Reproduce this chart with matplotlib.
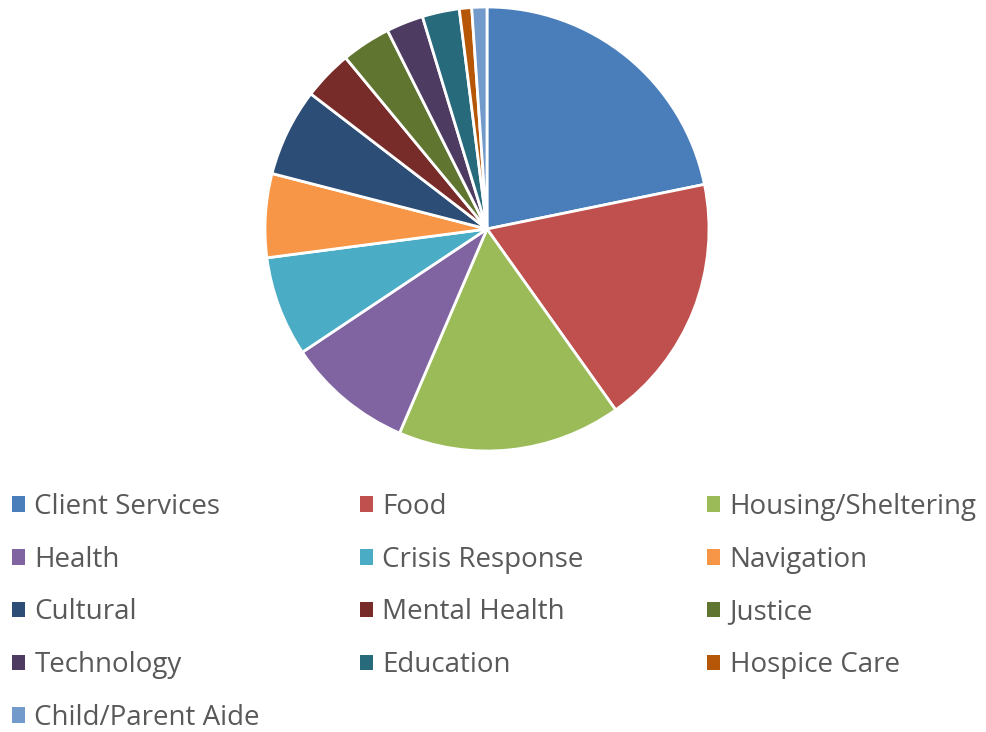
import matplotlib
matplotlib.use("Agg")
import matplotlib.pyplot as plt

categories = ["Client Services", "Food", "Housing/Sheltering", "Health", "Crisis Response",
              "Navigation", "Cultural", "Mental Health", "Justice", "Technology",
              "Education", "Hospice Care", "Child/Parent Aide"]
values = [21.8, 18.4, 16.3, 9.2, 7.3, 6.1, 6.4, 3.6, 3.6, 2.7, 2.7, 0.9, 1.1]
colors = ["#4A7EBB", "#C0504D", "#9BBB59", "#8064A2", "#4BACC6", "#F79646", "#2C4D75",
          "#772C2A", "#5F7530", "#4D3B62", "#276A7C", "#B65708", "#729ACA"]

plt.rcParams['font.family'] = ['Open Sans', 'DejaVu Sans']

W, H = 987, 732
fig = plt.figure(figsize=(W / 100, H / 100), dpi=100)
cx, cy, r = 487, 229, 222
ax = fig.add_axes([(cx - r) / W, (H - cy - r) / H, 2 * r / W, 2 * r / H])
wedges, _ = ax.pie(values, colors=colors, startangle=90, counterclock=False,
                   wedgeprops=dict(edgecolor="white", linewidth=2), radius=1)
ax.set_xlim(-1.0, 1.0)
ax.set_ylim(-1.0, 1.0)
ax.set_aspect("equal")
ax.axis("off")

col_x = [12, 360, 707]
for c in range(3):
    idx = list(range(c, len(categories), 3))
    leg = fig.legend([wedges[i] for i in idx], [categories[i] for i in idx],
                     loc="upper left", bbox_to_anchor=(col_x[c] / W, (H - 493) / H),
                     frameon=False, fontsize=20, labelcolor="#595959",
                     handlelength=0.48, handleheight=0.48, handletextpad=0.33,
                     labelspacing=0.89, borderaxespad=0, borderpad=0)
    for h in leg.legend_handles:
        h.set_edgecolor("none")

fig.savefig("out.png", dpi=100)
